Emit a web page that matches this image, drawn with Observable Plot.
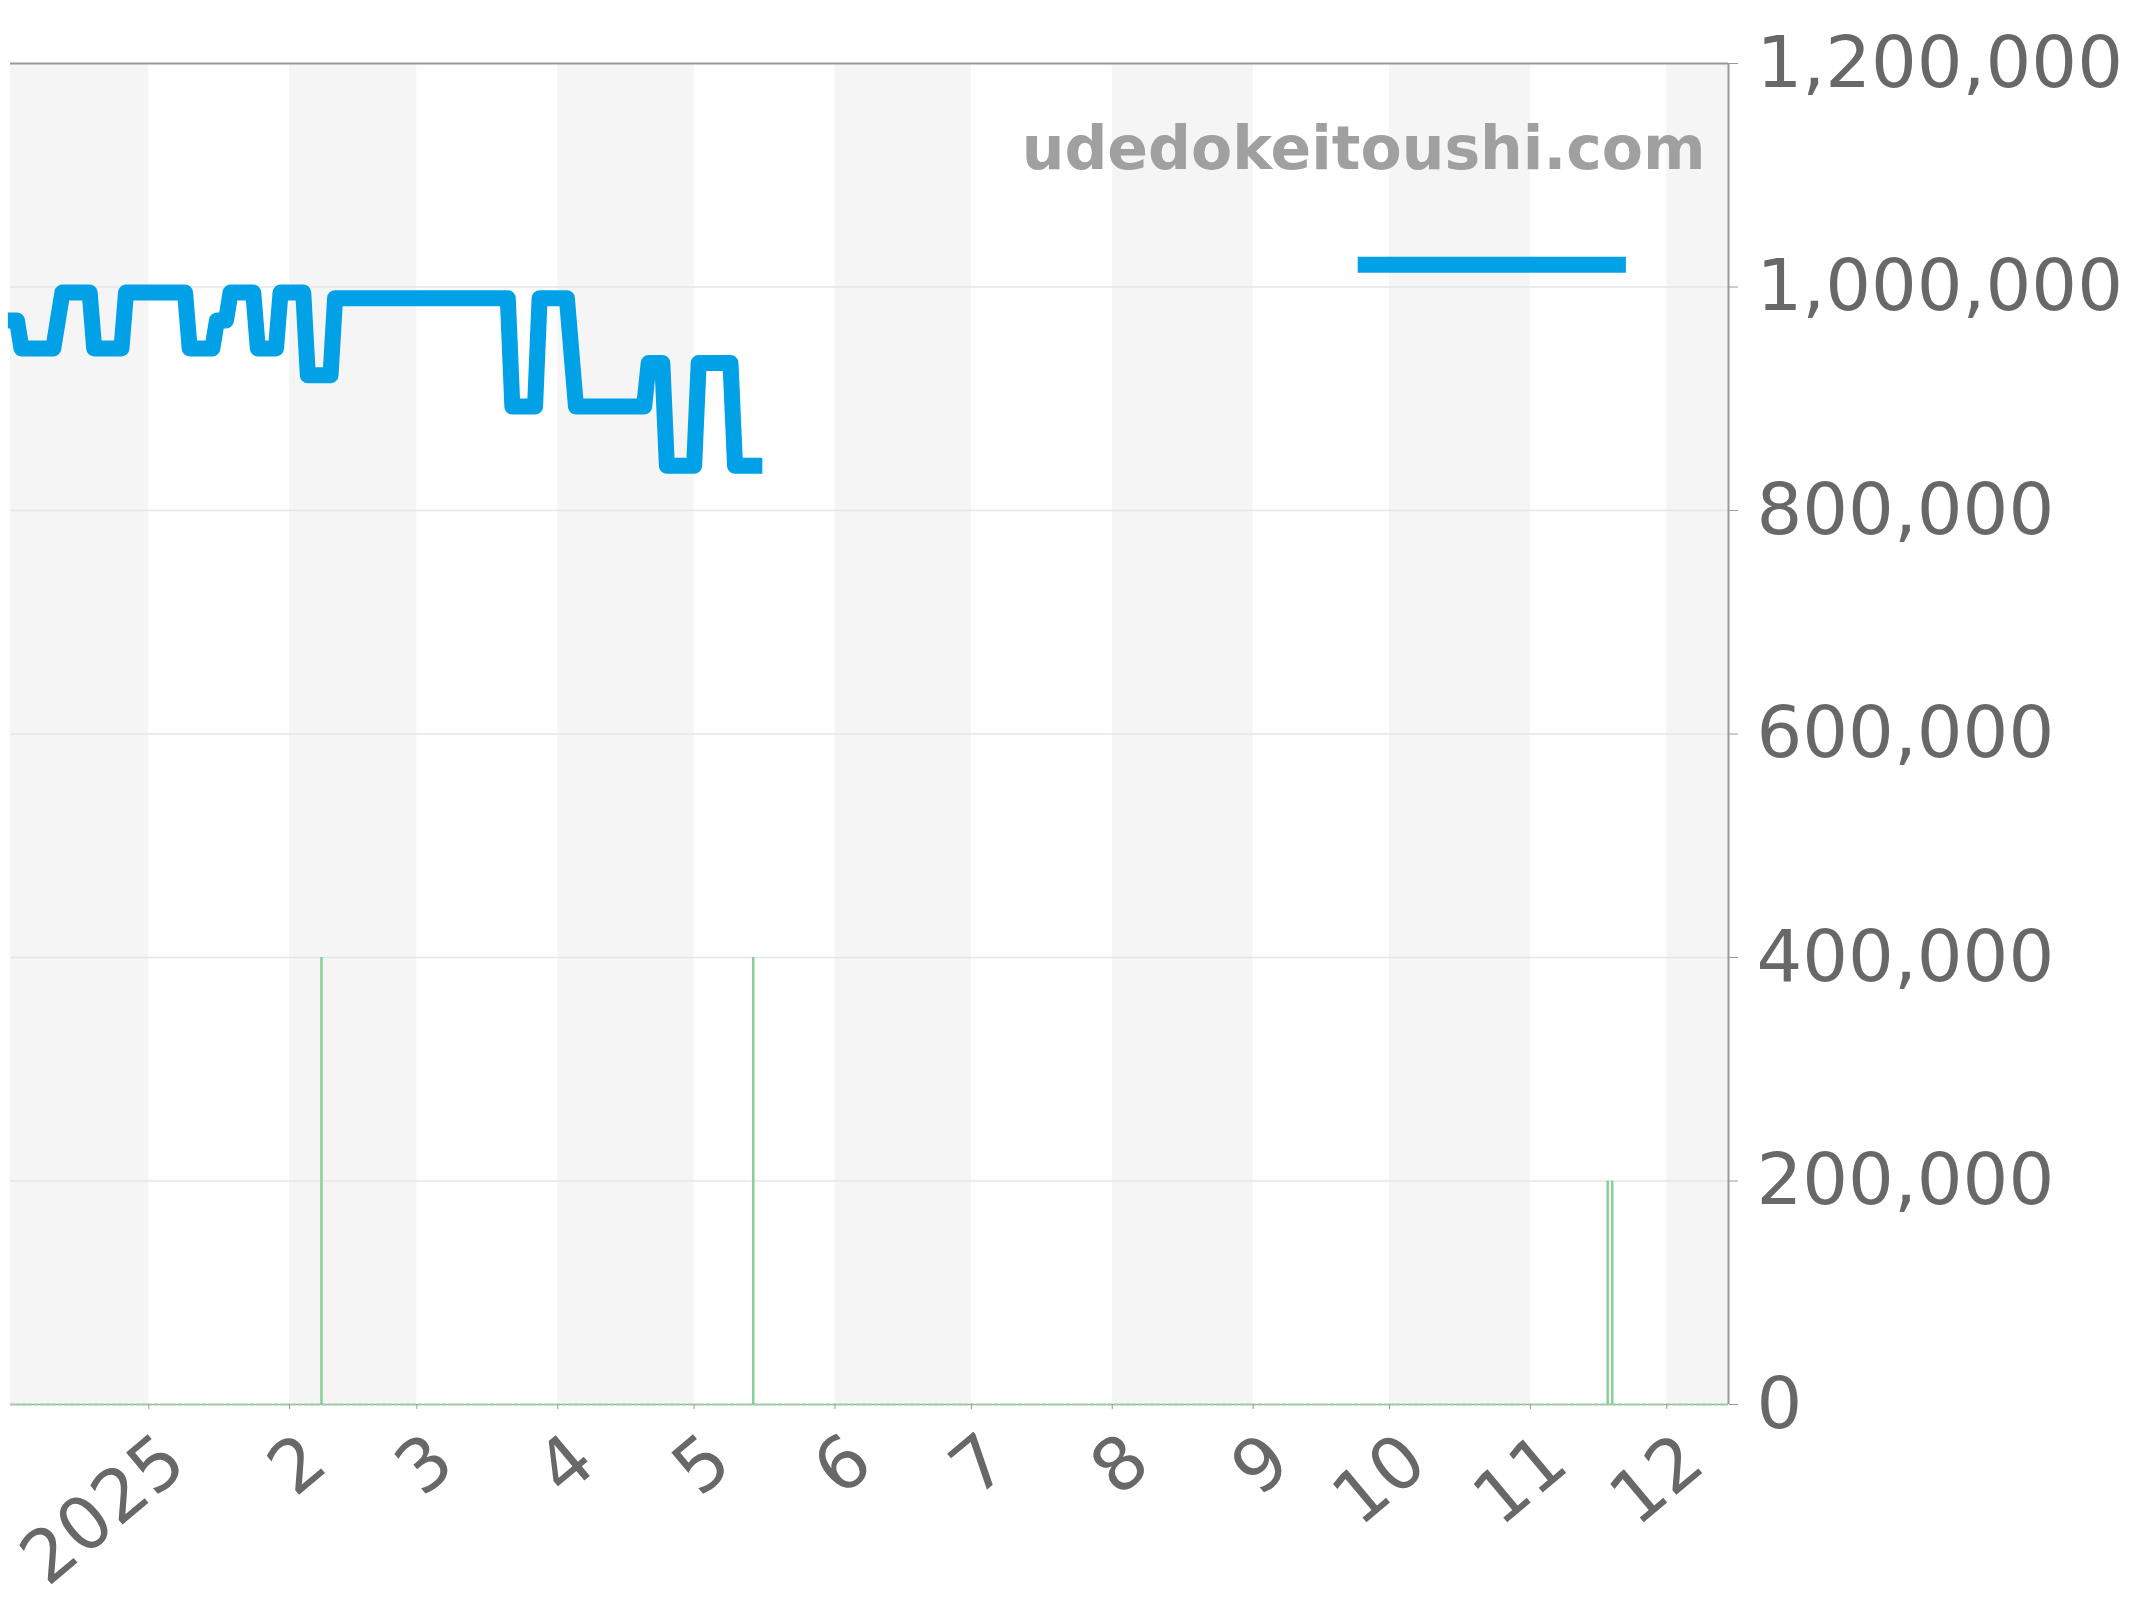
<!DOCTYPE html>
<html><head><meta charset="utf-8">
<script src="https://cdn.jsdelivr.net/npm/d3@7"></script>
<script src="https://cdn.jsdelivr.net/npm/@observablehq/plot@0.6"></script>
<style>body{margin:0;background:#fff} #chart svg{display:block}</style>
</head><body><div id="chart"></div>
<script>
// Main price line (vertices)
const priceDates = [
  "2024-12-01","2024-12-03","2024-12-04","2024-12-11","2024-12-13","2024-12-19","2024-12-20","2024-12-26","2024-12-27",
  "2025-01-09","2025-01-10","2025-01-15","2025-01-16","2025-01-18","2025-01-19","2025-01-24","2025-01-25","2025-01-29","2025-01-30",
  "2025-02-04","2025-02-05","2025-02-10","2025-02-11","2025-03-21","2025-03-22","2025-03-27","2025-03-28","2025-04-03","2025-04-05",
  "2025-04-20","2025-04-21","2025-04-24","2025-04-25","2025-05-01","2025-05-02","2025-05-09","2025-05-10","2025-05-16"
];
const priceValues = [
  970000,970000,945000,945000,995000,995000,945000,945000,995000,
  995000,945000,945000,970000,970000,995000,995000,945000,945000,995000,
  995000,921000,921000,990000,990000,893000,893000,990000,990000,893000,
  893000,932000,932000,840000,840000,932000,932000,840000,840000
];
// Second (later) price segment
const listingDates = ["2025-09-24","2025-11-22"];
const listingValues = [1020000,1020000];
// Green volume bars
const volumeDates = ["2025-02-08","2025-05-14","2025-11-18","2025-11-19"];
const volumeValues = [400000,400000,200000,200000];
// Axes
const monthTicks = ["2025-01-01","2025-02-01","2025-03-01","2025-04-01","2025-05-01","2025-06-01","2025-07-01","2025-08-01","2025-09-01","2025-10-01","2025-11-01","2025-12-01"];
const monthLabels = ["2025","2","3","4","5","6","7","8","9","10","11","12"];
const yTicks = [0,200000,400000,600000,800000,1000000,1200000];
const gridValues = [200000,400000,600000,800000,1000000];
const shadeStarts = ["2024-12-01","2025-02-01","2025-04-01","2025-06-01","2025-08-01","2025-10-01","2025-12-01"];
const shadeEnds   = ["2025-01-01","2025-03-01","2025-05-01","2025-07-01","2025-09-01","2025-11-01","2026-01-01"];
const xDomain = ["2024-12-01T14:00:00Z","2025-12-14T14:00:00Z"];
const watermark = "udedokeitoushi.com";

const D = s => new Date(s);
const lineData = [
  ...priceDates.map((d,i)=>({date:D(d), value:priceValues[i], series:"a"})),
  ...listingDates.map((d,i)=>({date:D(d), value:listingValues[i], series:"b"}))
];
const volData = volumeDates.map((d,i)=>({date:D(d), value:volumeValues[i]}));
const shades = shadeStarts.map((s,i)=>({x1:D(s), x2:D(shadeEnds[i])}));
const ticks = monthTicks.map((t,i)=>({date:D(t), label:monthLabels[i]}));

const chart = Plot.plot({
  width: 2144, height: 1600,
  marginLeft: 10, marginRight: 416, marginTop: 63, marginBottom: 196,
  style: {fontFamily: "DejaVu Sans", background: "#fff"},
  x: {type: "utc", domain: xDomain.map(D), label: null},
  y: {domain: [0, 1200000], label: null},
  marks: [
    Plot.rect(shades, {x1:"x1", x2:"x2", fill:"#f5f5f5", clip:true}),
    Plot.ruleY(gridValues, {stroke:"#e6e6e6", strokeWidth:1.5}),
    Plot.ruleY([0], {stroke:"#aaa", strokeWidth:1.5}),
    Plot.ruleY([0], {stroke:"#9ad8a5", strokeWidth:2, strokeDasharray:"4,2"}),
    Plot.ruleX(volData, {x:"date", y1:0, y2:"value", stroke:"#86d193", strokeWidth:2.5}),
    Plot.line(lineData, {x:"date", y:"value", z:"series", stroke:"#00a1e6", strokeWidth:16, strokeLinejoin:"round", strokeLinecap:"butt"}),
    Plot.ruleY([1200000], {stroke:"#999", strokeWidth:2}),
    Plot.ruleX([D(xDomain[1])], {stroke:"#999", strokeWidth:2}),
    Plot.axisY({anchor:"right", ticks:yTicks, tickFormat:d3.format(","), tickSize:9, tickPadding:19, fontSize:72, stroke:"#999", fill:"#686868", label:null}),
    Plot.axisX({ticks:monthTicks.map(D), tickSize:5, tickFormat:()=>"", stroke:"#999", label:null}),
    Plot.text(ticks, {x:"date", text:"label", frameAnchor:"bottom", rotate:-40, textAnchor:"end", lineAnchor:"middle", dx:26, dy:46, fontSize:73, fill:"#686868"}),
    Plot.text([watermark], {frameAnchor:"top-right", text:d=>d, textAnchor:"end", lineAnchor:"bottom", dx:-23, dy:105, fontSize:60, fontWeight:"bold", fill:"#a0a0a0"})
  ]
});
document.getElementById("chart").appendChild(chart);
</script>
</body></html>
